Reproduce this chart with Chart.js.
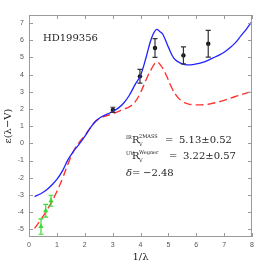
<!DOCTYPE html>
<html lang="en">
<head>
  <meta charset="UTF-8" />
  <title>HD199356 extinction curve</title>
  <script src="https://cdn.jsdelivr.net/npm/chart.js"></script>
  <style>
    html, body { margin: 0; padding: 0; background: #fff; }
    #wrap { width: 266px; height: 266px; }
  </style>
</head>
<body>
  <div id="wrap"><canvas id="curve"></canvas></div>

  <script>
    // model curves (1/lambda, E(lambda-V)/E(B-V))
    const blueX = [0.2, 0.4, 0.6, 0.8, 1.0, 1.2, 1.4, 1.6, 1.8, 2.0, 2.2, 2.4, 2.6, 2.8, 3.0, 3.2, 3.4, 3.6, 3.8, 4.0, 4.2, 4.4, 4.57, 4.7, 4.8, 5.0, 5.2, 5.4, 5.6, 5.8, 6.0, 6.2, 6.4, 6.6, 6.8, 7.0, 7.2, 7.4, 7.6, 7.8, 8.0];
    const blueY = [-3.1, -2.95, -2.75, -2.45, -2.1, -1.6, -0.95, -0.45, -0.05, 0.4, 0.9, 1.3, 1.55, 1.7, 1.85, 2.05, 2.35, 2.8, 3.4, 3.95, 5.0, 6.15, 6.63, 6.5, 6.35, 5.6, 4.95, 4.7, 4.58, 4.57, 4.62, 4.7, 4.82, 4.97, 5.12, 5.3, 5.55, 5.85, 6.25, 6.65, 7.1];
    const redX = [0.2, 0.4, 0.6, 0.8, 1.0, 1.2, 1.4, 1.6, 1.8, 2.0, 2.2, 2.4, 2.6, 2.8, 3.0, 3.2, 3.4, 3.6, 3.8, 4.0, 4.2, 4.4, 4.57, 4.7, 4.9, 5.1, 5.3, 5.5, 5.7, 5.9, 6.1, 6.3, 6.5, 6.7, 6.9, 7.1, 7.3, 7.5, 7.7, 8.0];
    const redY = [-4.95, -4.5, -4.0, -3.45, -2.8, -2.05, -1.2, -0.45, 0.05, 0.45, 0.9, 1.3, 1.5, 1.62, 1.72, 1.85, 2.0, 2.12, 2.4, 2.95, 3.7, 4.35, 4.73, 4.6, 4.05, 3.3, 2.75, 2.45, 2.3, 2.25, 2.24, 2.25, 2.3, 2.37, 2.46, 2.56, 2.67, 2.78, 2.88, 3.02];

    // observed points
    const uvX = [3.01, 3.98, 4.52, 5.54, 6.43];
    const uvY = [1.95, 3.9, 5.55, 5.12, 5.8];
    const uvErr = [0.15, 0.4, 0.55, 0.5, 0.78];
    const irX = [0.43, 0.6, 0.79];
    const irY = [-4.84, -3.92, -3.34];
    const irErr = [0.45, 0.37, 0.32];

    const xTicks = [0, 1, 2, 3, 4, 5, 6, 7, 8];
    const yTicks = [-5, -4, -3, -2, -1, 0, 1, 2, 3, 4, 5, 6, 7];

    const pts = (xs, ys) => xs.map((x, i) => ({ x: x, y: ys[i] }));

    const frameColor = '#9a9a9a';
    const serif = '"DejaVu Serif", serif';

    // frame, inward ticks, error bars, text
    const extras = {
      id: 'extras',
      afterDatasetsDraw(chart) {
        const ctx = chart.ctx;
        const a = chart.chartArea;
        const sx = chart.scales.x, sy = chart.scales.y;
        ctx.save();

        ctx.strokeStyle = frameColor;
        ctx.lineWidth = 1;
        ctx.strokeRect(a.left + 0.5, a.top + 0.5, a.right - a.left - 1, a.bottom - a.top - 1);
        ctx.beginPath();
        xTicks.forEach(v => {
          const px = Math.round(sx.getPixelForValue(v)) + 0.5;
          ctx.moveTo(px, a.bottom); ctx.lineTo(px, a.bottom - 4);
          ctx.moveTo(px, a.top); ctx.lineTo(px, a.top + 4);
        });
        yTicks.forEach(v => {
          const py = Math.round(sy.getPixelForValue(v)) + 0.5;
          ctx.moveTo(a.left, py); ctx.lineTo(a.left + 4, py);
          ctx.moveTo(a.right, py); ctx.lineTo(a.right - 4, py);
        });
        ctx.stroke();

        const bars = (xs, ys, errs, color) => {
          ctx.strokeStyle = color;
          ctx.lineWidth = 1.2;
          ctx.beginPath();
          xs.forEach((x, i) => {
            const px = sx.getPixelForValue(x);
            const p1 = sy.getPixelForValue(ys[i] + errs[i]);
            const p2 = sy.getPixelForValue(ys[i] - errs[i]);
            ctx.moveTo(px, p1); ctx.lineTo(px, p2);
            ctx.moveTo(px - 2.5, p1); ctx.lineTo(px + 2.5, p1);
            ctx.moveTo(px - 2.5, p2); ctx.lineTo(px + 2.5, p2);
          });
          ctx.stroke();
        };
        bars(uvX, uvY, uvErr, '#333');
        bars(irX, irY, irErr, '#33dd33');

        ctx.fillStyle = '#222';
        ctx.textBaseline = 'alphabetic';
        ctx.font = '10px ' + serif;
        ctx.fillText('HD199356', 43, 41);

        const small = '5px ' + serif;
        const big = '10px ' + serif;
        const put = (t, x, y, f) => { ctx.font = f; ctx.fillText(t, x, y); };

        put('IR', 126, 139, small);
        put('R', 132, 143, big);
        put('2MASS', 139, 138, small);
        put('V', 139, 146, small);
        put('=', 165, 143, big);
        put('5.13\u00b10.52', 179, 143, big);

        put('UV', 126, 155, small);
        put('R', 132, 159, big);
        put('Wegner', 139, 154, small);
        put('V', 139, 162, small);
        put('=', 169, 159, big);
        put('3.22\u00b10.57', 183, 159, big);

        put('\u03b4=', 126, 176, 'italic 10px ' + serif);
        put('\u22122.48', 143, 176, big);

        ctx.restore();
      }
    };

    new Chart(document.getElementById('curve'), {
      type: 'scatter',
      data: {
        datasets: [
          {
            data: pts(blueX, blueY), showLine: true, borderColor: '#2222ff',
            borderWidth: 1.3, pointRadius: 0, tension: 0.4
          },
          {
            data: pts(redX, redY), showLine: true, borderColor: '#ff3333',
            borderWidth: 1.4, borderDash: [8, 4], pointRadius: 0, tension: 0.4
          },
          {
            data: pts(uvX, uvY), pointRadius: 2.2, backgroundColor: '#111', borderColor: '#111',
            borderWidth: 0
          },
          {
            data: pts(irX, irY), pointStyle: 'triangle', pointRadius: 3,
            backgroundColor: '#33dd33', borderColor: '#33dd33', borderWidth: 0
          }
        ]
      },
      options: {
        responsive: true,
        maintainAspectRatio: false,
        animation: false,
        layout: { padding: { left: 0, top: 15, right: 14, bottom: 0 } },
        plugins: { legend: { display: false }, tooltip: { enabled: false } },
        scales: {
          x: {
            type: 'linear', min: 0, max: 8,
            afterFit: s => { s.height = 29; },
            grid: { display: false, drawTicks: false }, border: { display: false },
            ticks: { stepSize: 1, padding: 4, color: '#555', font: { size: 7 } },
            title: { display: true, text: '1/\u03bb', color: '#222', padding: { top: 0, bottom: 3 },
                     font: { family: serif, size: 10 } }
          },
          y: {
            type: 'linear', min: -5.45, max: 7.47,
            afterFit: s => { s.width = 29; },
            grid: { display: false, drawTicks: false }, border: { display: false },
            ticks: { stepSize: 1, padding: 5, includeBounds: false, color: '#555', font: { size: 7 } },
            title: { display: true, text: '\u03b5(\u03bb\u2212V)', color: '#222', padding: { top: 2, bottom: 0 },
                     font: { family: serif, size: 10 } }
          }
        }
      },
      plugins: [extras]
    });
  </script>
</body>
</html>
